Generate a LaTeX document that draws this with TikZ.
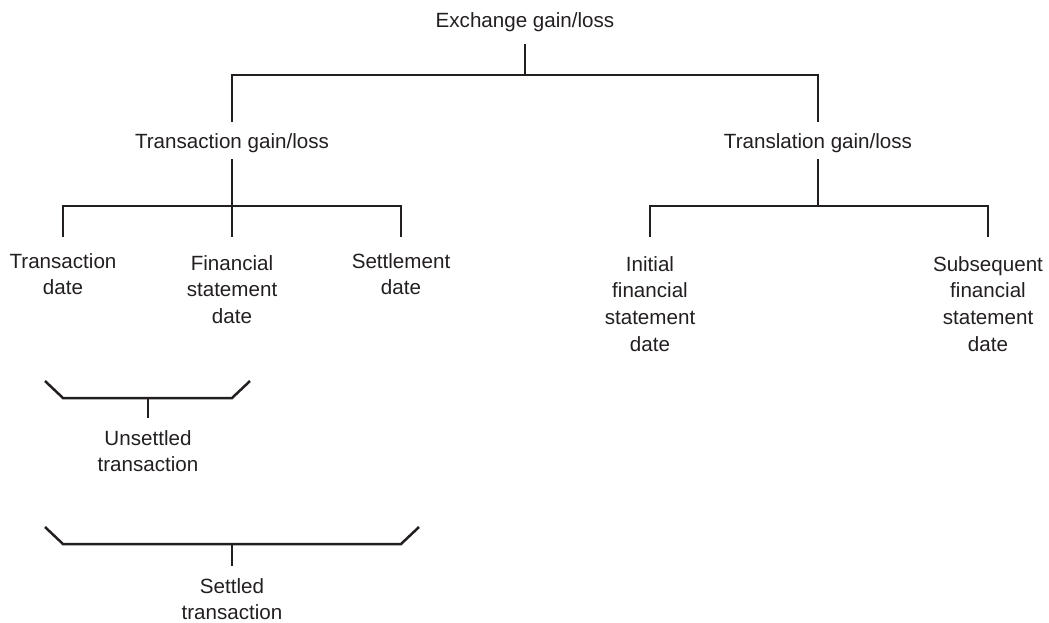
\documentclass[tikz,border=0pt]{standalone}
\usepackage{fontspec}
\setmainfont{Liberation Sans}
\usetikzlibrary{calc}
\definecolor{ink}{HTML}{231F20}
\tikzset{
  lbl/.style={anchor=north,inner sep=0pt,align=center,text=ink,
    font=\fontsize{10.3}{13.3}\selectfont},
  bar/.style={draw=ink,line width=1.25pt}
}
\begin{document}
\begin{tikzpicture}[x=0.5pt,y=-0.5pt]
  \useasboundingbox (0,0) rectangle (1049,622);
  % labels
  \node[lbl] (exch) at (525,12) {Exchange gain/loss};
  \node[lbl] (trg) at (232,133) {Transaction gain/loss};
  \node[lbl] (tlg) at (818,133) {Translation gain/loss};
  \node[lbl] (tdate) at (63,253) {Transaction\\date};
  \node[lbl] (fsdate) at (232,255) {Financial\\statement\\date};
  \node[lbl] (sdate) at (401,253) {Settlement\\date};
  \node[lbl] (ifsd) at (650,256) {Initial\\financial\\statement\\date};
  \node[lbl] (sfsd) at (988,256) {Subsequent\\financial\\statement\\date};
  \node[lbl] (unset) at (148,430) {Unsettled\\transaction};
  \node[lbl] (settl) at (232,578) {Settled\\transaction};
  % bar heights
  \coordinate (bar0) at (0,75);
  \coordinate (bar1) at (0,206);
  \coordinate (brk1) at (0,398);
  \coordinate (brk2) at (0,544);
  % top level
  \draw[bar] ([yshift=-6pt]exch.south) -- (exch.south |- bar0);
  \draw[bar] ([yshift=5.5pt]trg.north) -- (trg.north |- bar0)
    -- (tlg.north |- bar0) -- ([yshift=5.5pt]tlg.north);
  % transaction side
  \draw[bar] ([yshift=-3pt]trg.south) -- (trg.south |- bar1);
  \draw[bar] ([yshift=8pt]tdate.north) -- (tdate.north |- bar1)
    -- (sdate.north |- bar1) -- ([yshift=8pt]sdate.north);
  \draw[bar] (fsdate.north |- bar1) -- ([yshift=9pt]fsdate.north);
  % translation side
  \draw[bar] ([yshift=-3pt]tlg.south) -- (tlg.south |- bar1);
  \draw[bar] ([yshift=9.5pt]ifsd.north) -- (ifsd.north |- bar1)
    -- (sfsd.north |- bar1) -- ([yshift=9.5pt]sfsd.north);
  % brackets
  \draw[bar] ($(tdate.north |- brk1)+(-18,-17)$) -- (tdate.north |- brk1)
    -- (fsdate.north |- brk1) -- ++(18,-17);
  \draw[bar] (unset.north |- brk1) -- ([yshift=6pt]unset.north);
  \draw[bar] ($(tdate.north |- brk2)+(-18,-17)$) -- (tdate.north |- brk2)
    -- (sdate.north |- brk2) -- ++(18,-17);
  \draw[bar] (settl.north |- brk2) -- ([yshift=6pt]settl.north);
\end{tikzpicture}
\end{document}
